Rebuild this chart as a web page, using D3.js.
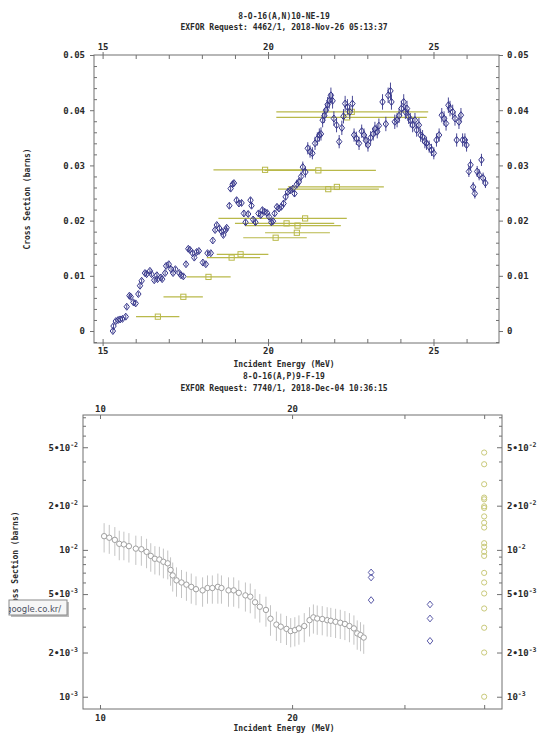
<!DOCTYPE html>
<html><head><meta charset="utf-8">
<script src="https://cdn.jsdelivr.net/npm/d3@7"></script>
<style>body{margin:0;background:#fff}svg{display:block}</style>
</head><body><svg id="c" width="542" height="733"></svg>
<script>
// ---------- DATA ----------
const titleA = "8-O-16(A,N)10-NE-19";
const requestA = "EXFOR Request: 4462/1, 2018-Nov-26 05:13:37";
const titleB = "8-O-16(A,P)9-F-19";
const requestB = "EXFOR Request: 7740/1, 2018-Dec-04 10:36:15";
const xTitle = "Incident Energy (MeV)";
const yTitle = "Cross Section (barns)";

const topXTicks = [15,16,17,18,19,20,21,22,23,24,25,26];
const topXLabels = [15,20,25];
const topYLabels = [0,0.01,0.02,0.03,0.04,0.05];
const topYMinor = [-0.002,0.002,0.004,0.006,0.008,0.012,0.014,0.016,0.018,0.022,0.024,0.026,0.028,0.032,0.034,0.036,0.038,0.042,0.044,0.046,0.048];

// [E (MeV), sigma (b), d sigma]
const topBlue = [
[15.31,0.0000,0.0004],[15.33,0.0009,0.0004],[15.40,0.0018,0.0004],[15.47,0.0020,0.0004],[15.53,0.0021,0.0004],[15.60,0.0022,0.0004],[15.70,0.0026,0.0004],[15.73,0.0044,0.0004],[15.81,0.0064,0.0004],[15.85,0.0062,0.0004],[15.93,0.0052,0.0004],[16.00,0.0050,0.0004],[16.08,0.0067,0.0004],[16.13,0.0082,0.0004],[16.18,0.0091,0.0004],[16.28,0.0105,0.0004],[16.33,0.0103,0.0004],[16.43,0.0109,0.0004],[16.48,0.0103,0.0004],[16.56,0.0092,0.0004],[16.64,0.0101,0.0004],[16.66,0.0094,0.0004],[16.76,0.0097,0.0004],[16.80,0.0094,0.0004],[16.89,0.0105,0.0004],[16.92,0.0118,0.0004],[17.00,0.0121,0.0004],[17.07,0.0112,0.0004],[17.13,0.0105,0.0004],[17.20,0.0112,0.0004],[17.32,0.0105,0.0004],[17.37,0.0101,0.0004],[17.44,0.0099,0.0004],[17.52,0.0121,0.0004],[17.59,0.0149,0.0004],[17.64,0.0147,0.0004],[17.72,0.0141,0.0004],[17.77,0.0133,0.0004],[17.84,0.0143,0.0004],[17.91,0.0145,0.0004],[18.03,0.0124,0.0004],[18.12,0.0121,0.0004],[18.17,0.0141,0.0004],[18.27,0.0141,0.0004],[18.33,0.0164,0.0004],[18.40,0.0183,0.0004],[18.45,0.0192,0.0004],[18.53,0.0186,0.0004],[18.60,0.0180,0.0004],[18.65,0.0174,0.0004],[18.72,0.0183,0.0004],[18.75,0.0187,0.0004],[18.83,0.0227,0.0005],[18.87,0.0258,0.0005],[18.93,0.0266,0.0005],[18.97,0.0268,0.0005],[19.05,0.0237,0.0005],[19.12,0.0231,0.0005],[19.20,0.0232,0.0005],[19.27,0.0213,0.0005],[19.32,0.0197,0.0005],[19.40,0.0212,0.0005],[19.47,0.0237,0.0005],[19.50,0.0227,0.0005],[19.55,0.0202,0.0005],[19.62,0.0197,0.0005],[19.71,0.0213,0.0005],[19.78,0.0210,0.0005],[19.83,0.0219,0.0005],[19.90,0.0216,0.0005],[19.97,0.0214,0.0005],[20.03,0.0207,0.0005],[20.10,0.0197,0.0005],[20.15,0.0199,0.0005],[20.20,0.0213,0.0005],[20.27,0.0225,0.0005],[20.33,0.0222,0.0005],[20.40,0.0225,0.0005],[20.47,0.0231,0.0006],[20.53,0.0243,0.0006],[20.60,0.0252,0.0006],[20.67,0.0255,0.0006],[20.75,0.0258,0.0006],[20.80,0.0249,0.0006],[20.87,0.0266,0.0008],[20.93,0.0270,0.0008],[21.00,0.0280,0.0009],[21.05,0.0297,0.0010],[21.13,0.0288,0.0010],[21.20,0.0331,0.0011],[21.27,0.0325,0.0011],[21.34,0.0322,0.0011],[21.42,0.0340,0.0012],[21.49,0.0348,0.0012],[21.55,0.0355,0.0012],[21.60,0.0357,0.0012],[21.65,0.0382,0.0013],[21.70,0.0390,0.0013],[21.75,0.0400,0.0013],[21.80,0.0410,0.0014],[21.85,0.0417,0.0014],[21.90,0.0427,0.0014],[21.95,0.0417,0.0014],[21.99,0.0385,0.0013],[22.07,0.0373,0.0013],[22.15,0.0343,0.0012],[22.23,0.0368,0.0013],[22.28,0.0389,0.0013],[22.33,0.0412,0.0014],[22.40,0.0406,0.0014],[22.47,0.0397,0.0013],[22.55,0.0412,0.0014],[22.60,0.0355,0.0012],[22.67,0.0349,0.0012],[22.75,0.0340,0.0012],[22.83,0.0362,0.0012],[22.90,0.0355,0.0012],[22.96,0.0345,0.0012],[23.02,0.0337,0.0012],[23.10,0.0350,0.0012],[23.18,0.0357,0.0012],[23.23,0.0366,0.0013],[23.30,0.0361,0.0012],[23.35,0.0372,0.0013],[23.46,0.0415,0.0014],[23.56,0.0375,0.0013],[23.63,0.0427,0.0014],[23.70,0.0435,0.0015],[23.73,0.0415,0.0014],[23.83,0.0379,0.0013],[23.90,0.0382,0.0013],[23.96,0.0390,0.0013],[24.03,0.0403,0.0014],[24.10,0.0415,0.0014],[24.15,0.0397,0.0013],[24.20,0.0403,0.0014],[24.25,0.0388,0.0013],[24.30,0.0382,0.0013],[24.37,0.0373,0.0013],[24.44,0.0382,0.0013],[24.49,0.0364,0.0012],[24.56,0.0373,0.0013],[24.61,0.0355,0.0012],[24.67,0.0352,0.0012],[24.74,0.0343,0.0012],[24.79,0.0340,0.0012],[24.87,0.0334,0.0011],[24.94,0.0328,0.0011],[25.01,0.0322,0.0011],[25.09,0.0346,0.0012],[25.17,0.0355,0.0012],[25.25,0.0391,0.0013],[25.32,0.0385,0.0013],[25.38,0.0376,0.0013],[25.45,0.0409,0.0014],[25.50,0.0403,0.0014],[25.58,0.0397,0.0013],[25.65,0.0385,0.0013],[25.70,0.0346,0.0012],[25.77,0.0379,0.0013],[25.83,0.0391,0.0013],[25.88,0.0346,0.0012],[25.95,0.0346,0.0012],[26.00,0.0337,0.0012],[26.07,0.0289,0.0010],[26.12,0.0301,0.0010],[26.20,0.0261,0.0009],[26.25,0.0249,0.0009],[26.32,0.0289,0.0010],[26.38,0.0283,0.0010],[26.45,0.0310,0.0011],[26.50,0.0277,0.0010],[26.57,0.0268,0.0009]
];

// [E, sigma, E low, E high]
const topYellow = [
[16.67,0.0026,16.01,17.32],[17.44,0.0062,16.84,18.03],[18.20,0.0098,17.54,18.87],
[18.90,0.0133,18.15,19.76],[19.17,0.0139,18.45,20.01],[20.23,0.0169,19.25,21.17],
[20.87,0.0178,19.91,21.87],[20.89,0.0191,19.30,22.20],[20.56,0.0195,19.00,22.00],
[21.12,0.0204,18.50,22.38],[19.91,0.0292,18.35,21.45],[21.52,0.0291,19.90,23.26],
[21.82,0.0257,20.30,23.35],[22.08,0.0261,20.60,23.50],[22.39,0.0387,20.25,24.80],
[22.53,0.0397,20.25,24.84]
];

const botXTicks = [10,20,30,40];
const botXLabels = [10,20];
const botYLabels = [0.001,0.002,0.005,0.01,0.02,0.05];
const botYMinor = [0.003,0.004,0.006,0.007,0.008,0.009,0.03,0.04,0.06,0.07,0.08];

// [E, sigma, d sigma]
const botGray = [
[10.15,0.0124,0.0028],[10.34,0.0121,0.0027],[10.55,0.0117,0.0026],[10.72,0.0110,0.0025],[10.90,0.0109,0.0024],[11.10,0.0106,0.0024],[11.38,0.0102,0.0023],[11.61,0.0101,0.0023],[11.83,0.0097,0.0022],[12.01,0.0091,0.0020],[12.19,0.0087,0.0019],[12.39,0.0086,0.0019],[12.57,0.0083,0.0019],[12.77,0.0081,0.0018],[12.90,0.0073,0.0016],[13.00,0.0067,0.0015],[13.18,0.0062,0.0014],[13.42,0.0060,0.0013],[13.66,0.0058,0.0013],[13.90,0.0056,0.0013],[14.14,0.0054,0.0012],[14.48,0.0053,0.0012],[14.74,0.0055,0.0012],[15.00,0.0055,0.0012],[15.30,0.0056,0.0013],[15.50,0.0055,0.0012],[15.90,0.0053,0.0012],[16.20,0.0053,0.0012],[16.50,0.0051,0.0011],[16.90,0.0049,0.0011],[17.20,0.0048,0.0011],[17.50,0.0044,0.0010],[17.80,0.0041,0.0009],[18.20,0.0039,0.0009],[18.50,0.0034,0.0008],[18.90,0.0031,0.0007],[19.20,0.0030,0.00068],[19.60,0.0029,0.00065],[19.90,0.0028,0.00063],[20.20,0.00284,0.00064],[20.50,0.00292,0.00066],[20.90,0.00303,0.00068],[21.30,0.00332,0.00075],[21.60,0.00347,0.00078],[21.90,0.00341,0.00077],[22.30,0.00338,0.00076],[22.70,0.00332,0.00075],[23.00,0.00329,0.00074],[23.40,0.00324,0.00073],[23.80,0.00319,0.00072],[24.20,0.00313,0.00070],[24.60,0.00303,0.00068],[25.00,0.00292,0.00066],[25.30,0.00270,0.00061],[25.60,0.00263,0.00059],[25.90,0.00253,0.00057]
];
const botBlue = [[26.6,0.00702],[26.6,0.00649],[26.6,0.00455],[32.9,0.00425],[32.9,0.00341],[32.9,0.00240]];
const botYellow = [[40,0.0460],[40,0.0383],[40,0.0280],[40,0.0227],[40,0.0221],[40,0.0198],[40,0.0193],[40,0.0169],[40,0.0153],[40,0.0142],[40,0.0111],[40,0.0105],[40,0.0097],[40,0.0091],[40,0.00697],[40,0.0060],[40,0.00505],[40,0.00399],[40,0.00295],[40,0.00200],[40,0.0010]];

// ---------- DRAW ----------
const svg = d3.select("#c");
const FONT = "'DejaVu Sans Mono', 'Liberation Mono', monospace";
const TXT = "#2a2a2a", AX = "#707070";
const cBlue = "#34348a", cYel = "#b9b94a", cGray = "#a0a0a0", cBlue2 = "#5a5aa8", cYel2 = "#c9c97a";

function label(x, y, s, opts={}) {
  const t = svg.append("text").attr("x", x).attr("y", y).text(s)
    .attr("font-family", FONT).attr("font-weight", "bold")
    .attr("font-size", opts.size || 8).attr("fill", TXT)
    .attr("text-anchor", opts.anchor || "middle");
  if (opts.rotate) t.attr("transform", `rotate(-90 ${x} ${y})`);
  return t;
}
function styleAxis(g, size) {
  g.select(".domain").remove();
  g.selectAll("line").attr("stroke", AX);
  g.selectAll("text").attr("font-family", FONT).attr("font-weight","bold")
    .attr("font-size", size || 9).attr("fill", TXT);
}

// ===== Chart A =====
const A = {l:94, r:499, t:55, b:343};
const xA = d3.scaleLinear().domain([14.74, 26.98]).range([A.l, A.r]);
const yA = d3.scaleLinear().domain([-0.00217, 0.05]).range([A.b, A.t]);

label(284, 18.5, titleA);
label(284, 30, requestA);

const fmtX = d => topXLabels.includes(d) ? d : "";
const fmtY = d => d === 0 ? "0" : d.toFixed(2);
styleAxis(svg.append("g").attr("transform", `translate(0,${A.b})`)
  .call(d3.axisBottom(xA).tickValues(topXTicks).tickSize(-4).tickPadding(5).tickFormat(fmtX)));
styleAxis(svg.append("g").attr("transform", `translate(0,${A.t})`)
  .call(d3.axisTop(xA).tickValues(topXTicks).tickSize(-4).tickPadding(5).tickFormat(fmtX)));
styleAxis(svg.append("g").attr("transform", `translate(0,${A.b})`)
  .call(d3.axisBottom(xA).tickValues(topXLabels).tickSize(3).tickFormat("")));
styleAxis(svg.append("g").attr("transform", `translate(0,${A.t})`)
  .call(d3.axisTop(xA).tickValues(topXLabels).tickSize(3).tickFormat("")));
styleAxis(svg.append("g").attr("transform", `translate(${A.l},0)`)
  .call(d3.axisLeft(yA).tickValues(topYLabels).tickSize(4).tickPadding(5).tickFormat(fmtY)));
styleAxis(svg.append("g").attr("transform", `translate(${A.r},0)`)
  .call(d3.axisRight(yA).tickValues(topYLabels).tickSize(4).tickPadding(4).tickFormat(fmtY)));
styleAxis(svg.append("g").attr("transform", `translate(${A.l},0)`)
  .call(d3.axisLeft(yA).tickValues(topYMinor).tickSize(-3).tickFormat("")));
styleAxis(svg.append("g").attr("transform", `translate(${A.r},0)`)
  .call(d3.axisRight(yA).tickValues(topYMinor).tickSize(-3).tickFormat("")));
svg.append("rect").attr("x", A.l).attr("y", A.t).attr("width", A.r - A.l).attr("height", A.b - A.t)
  .attr("fill", "none").attr("stroke", AX);

label(284, 367, xTitle);
label(30, (A.t + A.b) / 2, yTitle, {rotate:true});

const gA = svg.append("g");
gA.selectAll(".yb").data(topYellow).join("line")
  .attr("x1", d => xA(d[2])).attr("x2", d => xA(d[3]))
  .attr("y1", d => yA(d[1])).attr("y2", d => yA(d[1]))
  .attr("stroke", cYel).attr("stroke-width", 1.2);
gA.selectAll(".ys").data(topYellow).join("rect")
  .attr("x", d => xA(d[0]) - 2.6).attr("y", d => yA(d[1]) - 2.6)
  .attr("width", 5.2).attr("height", 5.2)
  .attr("fill", "none").attr("stroke", cYel).attr("stroke-width", 1);
gA.selectAll(".be").data(topBlue).join("line")
  .attr("x1", d => xA(d[0])).attr("x2", d => xA(d[0]))
  .attr("y1", d => yA(d[1] - d[2])).attr("y2", d => yA(d[1] + d[2]))
  .attr("stroke", cBlue).attr("stroke-width", 0.9);
gA.selectAll(".bd").data(topBlue).join("path")
  .attr("d", d => { const x = xA(d[0]), y = yA(d[1]);
    return `M${x},${y-3.5}L${x+2.7},${y}L${x},${y+3.5}L${x-2.7},${y}Z`; })
  .attr("fill", "none").attr("stroke", cBlue).attr("stroke-width", 1);

// ===== Chart B =====
const B = {l:83, r:502, t:415, b:709};
const xB = d3.scaleLog().domain([9.405, 42.66]).range([B.l, B.r]);
const yB = d3.scaleLog().domain([0.000825, 0.0829]).range([B.b, B.t]);

label(284, 379, titleB);
label(284, 391, requestB);

const fmtBX = d => botXLabels.includes(d) ? d : "";
styleAxis(svg.append("g").attr("transform", `translate(0,${B.b})`)
  .call(d3.axisBottom(xB).tickValues(botXTicks).tickSize(-4).tickPadding(6).tickFormat(fmtBX)));
styleAxis(svg.append("g").attr("transform", `translate(0,${B.t})`)
  .call(d3.axisTop(xB).tickValues(botXTicks).tickSize(-4).tickPadding(3.5).tickFormat(fmtBX)));

function supLabels(g) {
  g.selectAll(".tick text").each(function(d) {
    const t = d3.select(this); t.text(null);
    const e = Math.floor(Math.log10(d) + 1e-9);
    const m = Math.round(d / Math.pow(10, e));
    t.append("tspan").text((m === 1 ? "" : m + "\u2022") + "10");
    t.append("tspan").attr("dy", -4).attr("font-size", 6.5).text("-" + (-e));
  });
}
const gLy = svg.append("g").attr("transform", `translate(${B.l},0)`)
  .call(d3.axisLeft(yB).tickValues(botYLabels).tickSize(-5).tickPadding(5));
styleAxis(gLy); supLabels(gLy);
const gRy = svg.append("g").attr("transform", `translate(${B.r},0)`)
  .call(d3.axisRight(yB).tickValues(botYLabels).tickSize(-5).tickPadding(5));
styleAxis(gRy); supLabels(gRy);
styleAxis(svg.append("g").attr("transform", `translate(${B.l},0)`)
  .call(d3.axisLeft(yB).tickValues(botYMinor).tickSize(-3).tickFormat("")));
styleAxis(svg.append("g").attr("transform", `translate(${B.r},0)`)
  .call(d3.axisRight(yB).tickValues(botYMinor).tickSize(-3).tickFormat("")));
svg.append("rect").attr("x", B.l).attr("y", B.t).attr("width", B.r - B.l).attr("height", B.b - B.t)
  .attr("fill", "none").attr("stroke", AX);

label(284, 731, xTitle);
label(18, 562, yTitle, {rotate:true});

const gB = svg.append("g");
gB.selectAll(".ge").data(botGray).join("line")
  .attr("x1", d => xB(d[0])).attr("x2", d => xB(d[0]))
  .attr("y1", d => yB(d[1] - d[2])).attr("y2", d => yB(d[1] + d[2]))
  .attr("stroke", "#c4c4c4").attr("stroke-width", 1);
gB.selectAll(".gc").data(botGray).join("circle")
  .attr("cx", d => xB(d[0])).attr("cy", d => yB(d[1])).attr("r", 2.7)
  .attr("fill", "#fff").attr("stroke", cGray).attr("stroke-width", 1);
gB.selectAll(".bd").data(botBlue).join("path")
  .attr("d", d => { const x = xB(d[0]), y = yB(d[1]);
    return `M${x},${y-3.4}L${x+2.8},${y}L${x},${y+3.4}L${x-2.8},${y}Z`; })
  .attr("fill", "none").attr("stroke", cBlue2).attr("stroke-width", 1);
gB.selectAll(".yc").data(botYellow).join("circle")
  .attr("cx", d => xB(d[0])).attr("cy", d => yB(d[1])).attr("r", 2.6)
  .attr("fill", "none").attr("stroke", cYel2).attr("stroke-width", 1);

// screenshot tooltip overlay
const tip = svg.append("g");
tip.append("rect").attr("x", 11).attr("y", 602).attr("width", 58).attr("height", 15).attr("fill", "#bbb");
tip.append("clipPath").attr("id", "tipc").append("rect").attr("x", 9).attr("y", 600).attr("width", 58).attr("height", 15);
tip.append("rect").attr("x", 9).attr("y", 600).attr("width", 58).attr("height", 15)
  .attr("fill", "#f6f6f6").attr("stroke", "#8a8a8a");
tip.append("text").attr("x", 6).attr("y", 611.5).attr("clip-path", "url(#tipc)")
  .attr("font-family", "'DejaVu Sans', sans-serif").attr("font-size", 8.5).attr("fill", "#4a5060")
  .text("google.co.kr/");
</script>
</body></html>
